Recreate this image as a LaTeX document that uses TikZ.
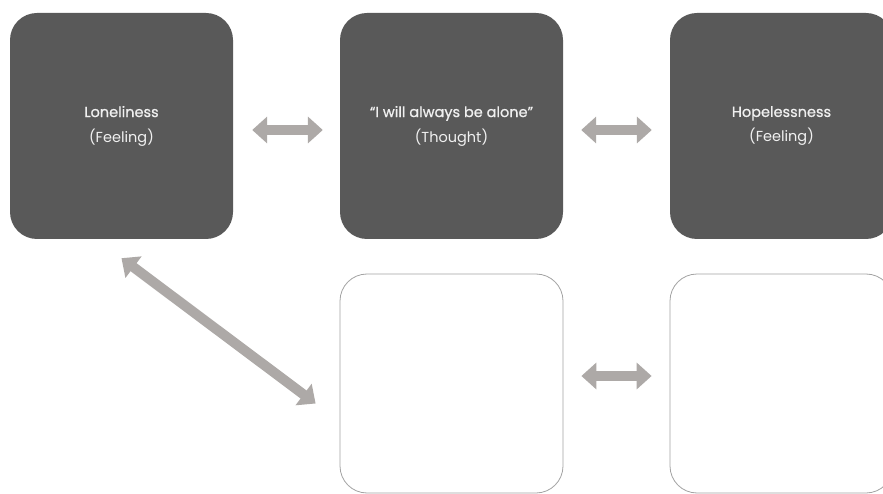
\documentclass[tikz,border=0pt]{standalone}
\usepackage{fontspec}
\setmainfont{Poppins}
\newfontfamily\medfont[FakeBold=0.8]{Poppins}
\usetikzlibrary{arrows.meta}
\definecolor{boxgray}{HTML}{595959}
\definecolor{arrowgray}{HTML}{ADA9A7}
\definecolor{linegray}{HTML}{A3A3A3}
\definecolor{txtgray}{HTML}{F0F0F0}
\begin{document}
\begin{tikzpicture}[x=1pt,y=-1pt,
  darkbox/.style={rectangle, rounded corners=27pt, fill=boxgray, minimum width=223pt, minimum height=226pt, inner sep=0pt, text=txtgray, align=center, font=\fontsize{14.5}{25}\selectfont},
  openbox/.style={rectangle, rounded corners=27pt, draw=linegray, line width=0.8pt, fill=white, minimum width=223pt, minimum height=219pt, inner sep=0pt},
  twoway/.style={draw=arrowgray, line width=10pt, {Triangle[width=26pt,length=15pt]}-{Triangle[width=26pt,length=15pt]}},
]
\fill[white] (0,0) rectangle (883,494);
\useasboundingbox (0,0) rectangle (883,494);
\node[darkbox] (b1) at (121.5,126) {{\medfont Loneliness}\\(Feeling)};
\node[darkbox] (b2) at (451.5,126) {{\medfont “I will always be alone”}\\(Thought)};
\node[darkbox] (b3) at (781.5,126) {{\medfont Hopelessness}\\(Feeling)};
\node[openbox] (bb2) at (451.5,383.5) {};
\node[openbox] (bb3) at (781.5,383.5) {};
\draw[twoway, shorten <=19pt, shorten >=17pt] ([yshift=-4pt]b1.east) -- ([yshift=-4pt]b2.west);
\draw[twoway, shorten <=18pt, shorten >=18pt] ([yshift=-4pt]b2.east) -- ([yshift=-4pt]b3.west);
\draw[twoway, shorten <=18pt, shorten >=18pt] ([yshift=7.5pt]bb2.east) -- ([yshift=7.5pt]bb3.west);
\draw[twoway] ([yshift=-19pt]b1.south) -- ([xshift=-24pt,yshift=-20pt]bb2.west);
\end{tikzpicture}
\end{document}
